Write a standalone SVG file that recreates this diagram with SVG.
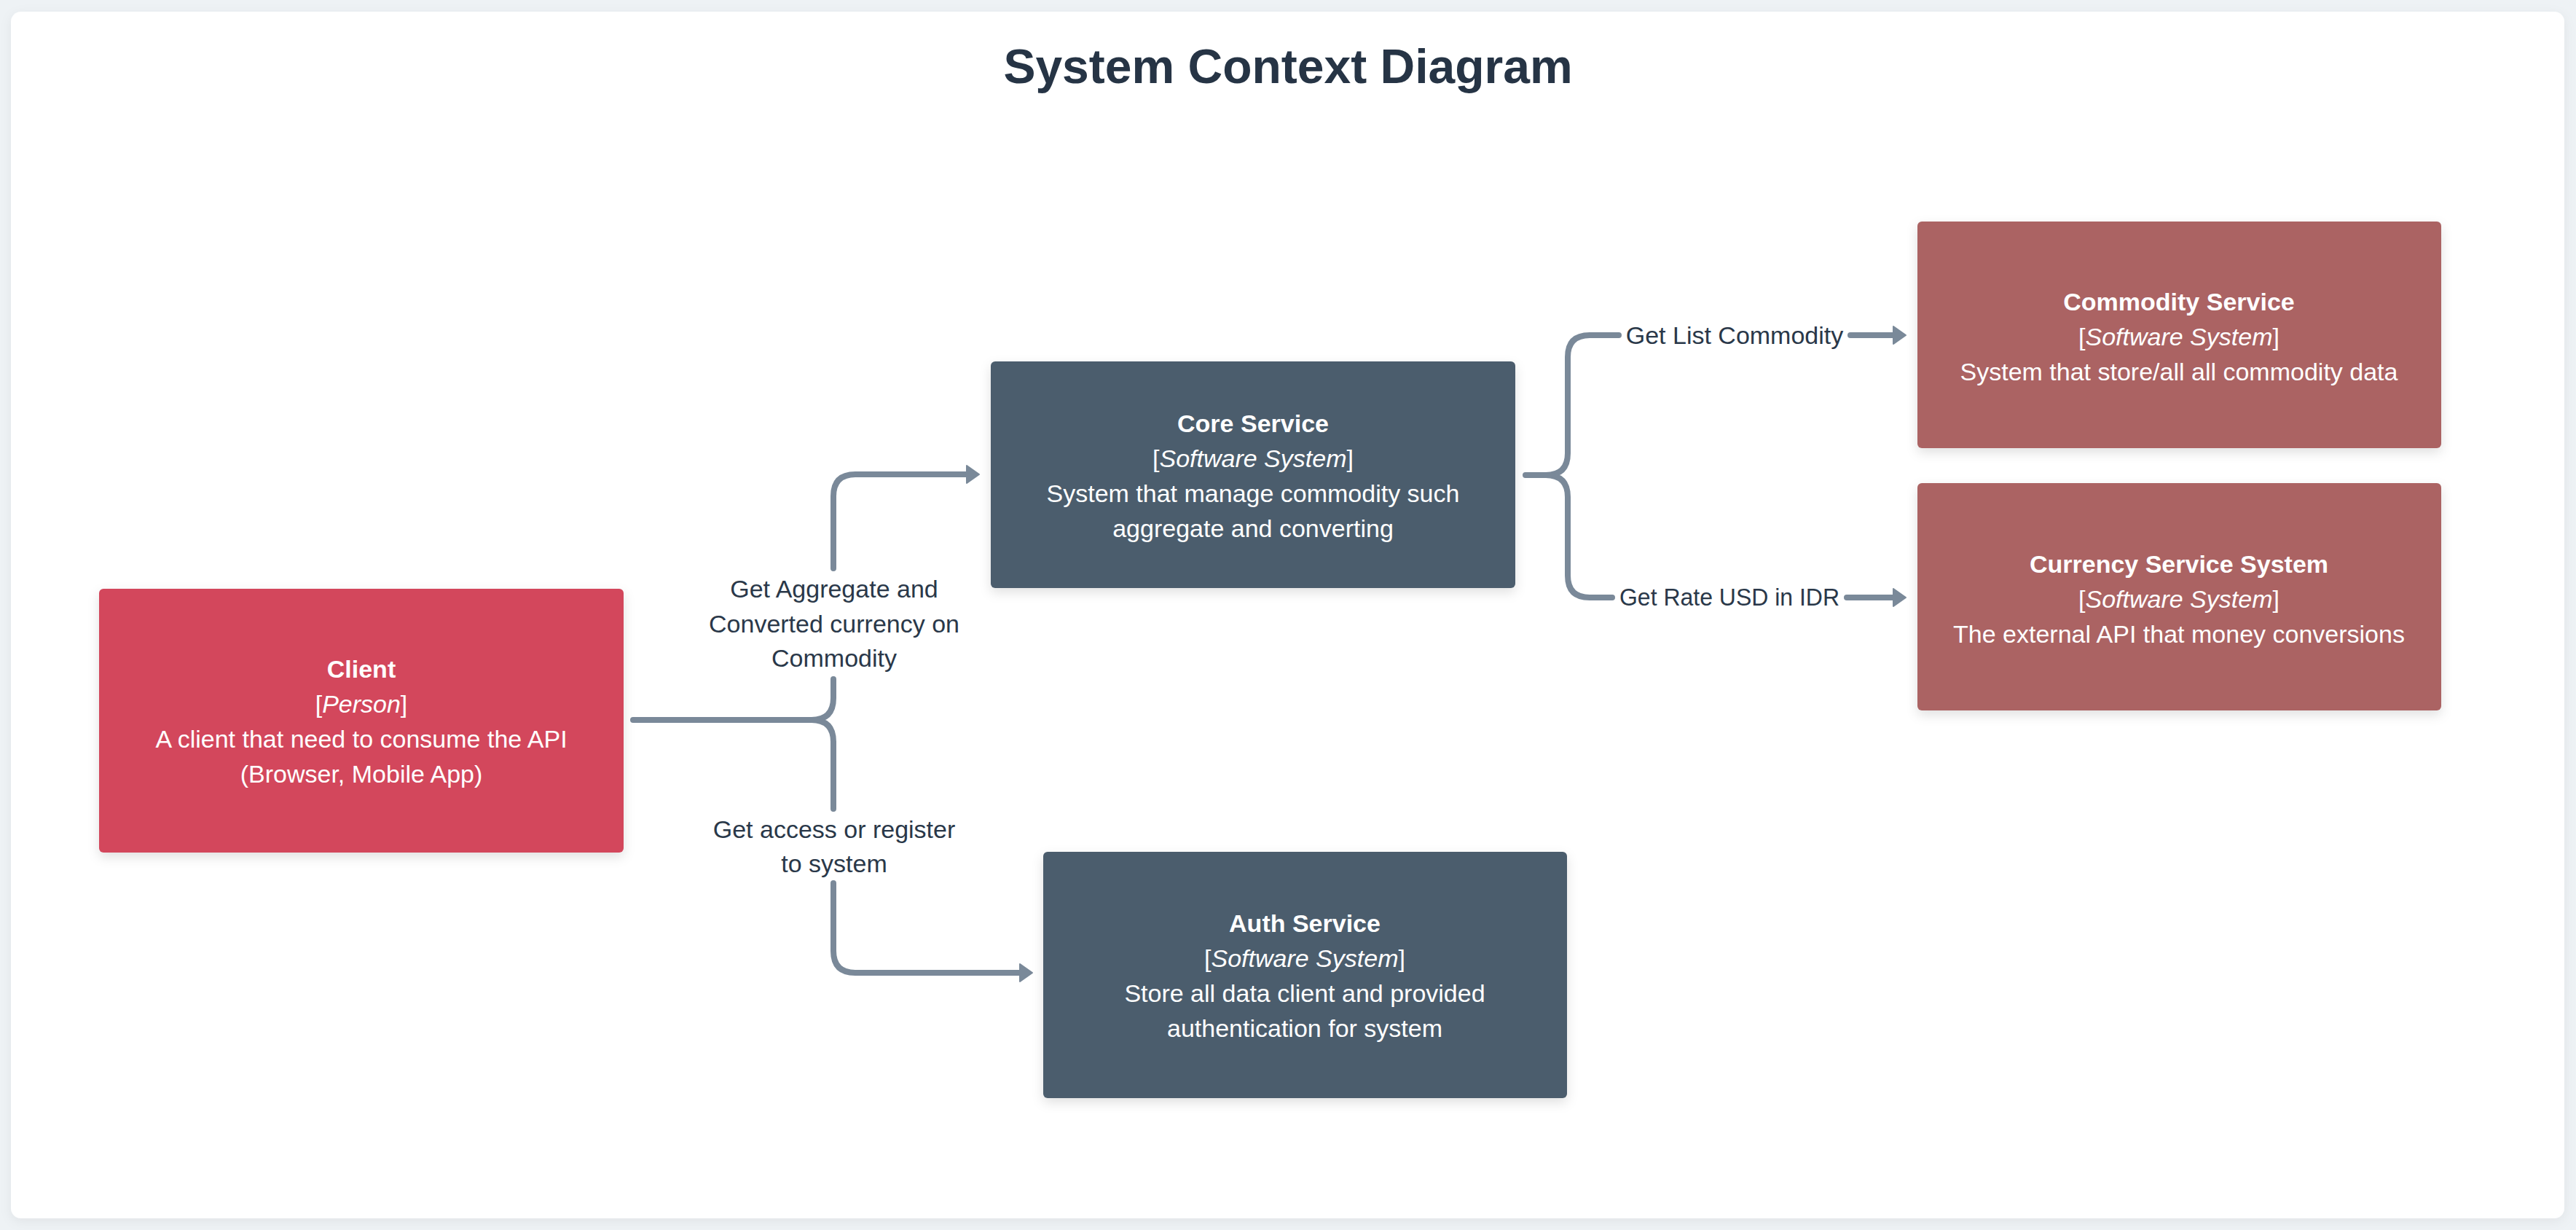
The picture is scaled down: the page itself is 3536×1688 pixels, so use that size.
<svg xmlns="http://www.w3.org/2000/svg" width="3536" height="1688" viewBox="0 0 3536 1688">
<defs>
<style>
.t{font-family:"Liberation Sans",Arial,sans-serif;font-size:34px;fill:#ffffff;text-anchor:middle}
.b{font-weight:bold}
.i{font-style:italic}
.lbl{font-family:"Liberation Sans",Arial,sans-serif;font-size:34px;fill:#2a3849;text-anchor:middle}
.edge{fill:none;stroke:#7a8999;stroke-width:8;stroke-linecap:round;stroke-linejoin:round}
.person{fill:#d3475b}
.internal{fill:#4b5d6d}
.external{fill:#ab6464}
</style>
<filter id="sh" x="-10%" y="-10%" width="120%" height="130%">
<feDropShadow dx="0" dy="6" stdDeviation="8" flood-color="#000" flood-opacity="0.12"/>
</filter>
<filter id="csh" x="-2%" y="-2%" width="104%" height="106%">
<feDropShadow dx="0" dy="4" stdDeviation="8" flood-color="#000" flood-opacity="0.06"/>
</filter>
<marker id="arr" viewBox="0 0 20 28" refX="1" refY="14" markerWidth="20" markerHeight="28" markerUnits="userSpaceOnUse" orient="auto">
<path d="M1,2 L18,14 L1,26 Z" fill="#7a8999" stroke="#7a8999" stroke-width="2" stroke-linejoin="round"/>
</marker>
</defs>
<rect x="0" y="0" width="3536" height="1688" fill="#eef2f5"/>
<rect x="15" y="16" width="3505" height="1656" rx="14" fill="#ffffff" filter="url(#csh)"/>
<text x="1768" y="114" font-family="'Liberation Sans',Arial,sans-serif" font-size="66" font-weight="bold" fill="#263445" text-anchor="middle">System Context Diagram</text>

<g id="connectors">
<path class="edge" d="M869 988 H1114 Q1144 988 1144 958 V932"/>
<path class="edge" d="M1114 988 Q1144 988 1144 1018 V1110"/>
<path class="edge" d="M1144 780 V681 Q1144 651 1174 651 H1327" marker-end="url(#arr)"/>
<path class="edge" d="M1144 1212 V1305 Q1144 1335 1174 1335 H1400" marker-end="url(#arr)"/>
<text class="lbl" x="1145" y="820">Get Aggregate and</text>
<text class="lbl" x="1145" y="868">Converted currency on</text>
<text class="lbl" x="1145" y="915">Commodity</text>
<text class="lbl" x="1145" y="1150">Get access or register</text>
<text class="lbl" x="1145" y="1197">to system</text>

<path class="edge" d="M2094 652 H2122 Q2152 652 2152 622 V490 Q2152 460 2182 460 H2222"/>
<path class="edge" d="M2540 460 H2599" marker-end="url(#arr)"/>
<path class="edge" d="M2122 652 Q2152 652 2152 682 V790 Q2152 820 2182 820 H2213"/>
<path class="edge" d="M2535 820 H2599" marker-end="url(#arr)"/>
<text class="lbl" x="2381" y="472">Get List Commodity</text>
<text class="lbl" x="2374" y="831" textLength="302" lengthAdjust="spacingAndGlyphs">Get Rate USD in IDR</text>
</g>

<g id="client">
<rect class="person" x="136" y="808" width="720" height="362" rx="6" filter="url(#sh)"/>
<text class="t b" x="496" y="930">Client</text>
<text class="t" x="496" y="978">[<tspan class="i">Person</tspan>]</text>
<text class="t" x="496" y="1026">A client that need to consume the API</text>
<text class="t" x="496" y="1074">(Browser, Mobile App)</text>
</g>

<g id="core-service">
<rect class="internal" x="1360" y="496" width="720" height="311" rx="6" filter="url(#sh)"/>
<text class="t b" x="1720" y="593">Core Service</text>
<text class="t" x="1720" y="641">[<tspan class="i">Software System</tspan>]</text>
<text class="t" x="1720" y="689">System that manage commodity such</text>
<text class="t" x="1720" y="737">aggregate and converting</text>
</g>

<g id="auth-service">
<rect class="internal" x="1432" y="1169" width="719" height="338" rx="6" filter="url(#sh)"/>
<text class="t b" x="1791" y="1279">Auth Service</text>
<text class="t" x="1791" y="1327">[<tspan class="i">Software System</tspan>]</text>
<text class="t" x="1791" y="1375">Store all data client and provided</text>
<text class="t" x="1791" y="1423">authentication for system</text>
</g>

<g id="commodity-service">
<rect class="external" x="2632" y="304" width="719" height="311" rx="6" filter="url(#sh)"/>
<text class="t b" x="2991" y="426">Commodity Service</text>
<text class="t" x="2991" y="474">[<tspan class="i">Software System</tspan>]</text>
<text class="t" x="2991" y="522">System that store/all all commodity data</text>
</g>

<g id="currency-service">
<rect class="external" x="2632" y="663" width="719" height="312" rx="6" filter="url(#sh)"/>
<text class="t b" x="2991" y="786">Currency Service System</text>
<text class="t" x="2991" y="834">[<tspan class="i">Software System</tspan>]</text>
<text class="t" x="2991" y="882">The external API that money conversions</text>
</g>
</svg>
